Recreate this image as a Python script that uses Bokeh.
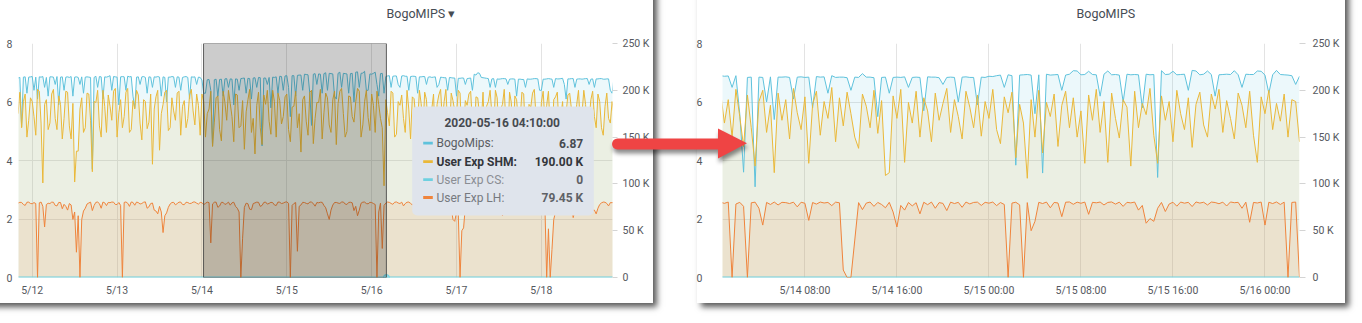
import math
import pandas as pd
from bokeh.plotting import figure
from bokeh.layouts import row, column
from bokeh.models import Range1d, LinearAxis, FixedTicker, BoxAnnotation, Label, Title, Div
from bokeh.embed import file_html
from bokeh.resources import INLINE

# ---------------- data ----------------
series_names = ["BogoMips", "User Exp SHM", "User Exp CS", "User Exp LH"]
series_colors = ["#5fc2dc", "#eab839", "#6ed0e0", "#ef843c"]

# left panel: 30-minute samples starting 2020-05-11 20:00
left_start = "2020-05-11 20:00"
left_step = "30min"
bogomips_left = [
    6.82, 6.84, 5.15, 6.85, 6.86, 6.30, 6.85, 6.86, 6.87, 6.40, 6.85, 6.10, 6.86, 6.85, 6.87, 6.50, 6.84, 6.20, 6.86, 6.86,
    6.85, 6.60, 6.87, 5.90, 6.85, 6.86, 6.40, 6.85, 6.86, 6.84, 6.87, 6.20, 6.85, 6.86, 6.84, 6.60, 6.86, 6.30, 6.85, 6.86,
    6.85, 6.84, 3.70, 6.84, 6.88, 6.50, 6.87, 6.86, 6.10, 6.86, 6.85, 6.87, 6.90, 6.40, 6.87, 6.86, 6.85, 5.90, 6.86, 6.87,
    6.86, 6.40, 6.88, 6.86, 6.87, 6.20, 5.80, 6.85, 6.86, 6.60, 6.86, 6.87, 6.84, 6.30, 6.86, 6.85, 6.50, 6.86, 6.85, 6.87,
    6.85, 6.20, 6.86, 6.84, 6.00, 6.85, 6.85, 6.87, 6.86, 6.50, 6.86, 6.85, 6.40, 6.84, 6.86, 6.87, 6.84, 6.10, 6.86, 6.85,
    6.86, 6.60, 6.85, 6.84, 6.75, 6.30, 6.30, 6.76, 6.77, 6.40, 4.50, 6.76, 6.78, 6.20, 6.77, 6.78, 6.20, 6.79, 6.80, 6.50,
    6.79, 6.78, 5.90, 6.79, 6.78, 6.40, 6.80, 6.81, 6.82, 6.30, 6.81, 6.80, 6.10, 6.82, 6.83, 6.50, 6.84, 6.83, 4.50, 6.82,
    6.82, 6.60, 6.84, 5.80, 6.85, 6.84, 6.86, 6.30, 6.88, 6.87, 6.40, 6.89, 6.90, 6.50, 5.50, 6.90, 6.90, 6.20, 6.91, 6.92,
    6.92, 6.40, 6.95, 6.94, 6.93, 6.30, 5.20, 6.95, 6.97, 6.60, 6.96, 6.95, 6.30, 6.97, 7.00, 6.40, 6.98, 6.97, 6.96, 6.20,
    6.10, 6.98, 7.02, 6.50, 6.98, 6.97, 6.96, 6.30, 6.97, 6.98, 6.00, 7.02, 7.03, 6.50, 6.98, 6.99, 7.05, 6.40, 6.40, 6.96,
    6.95, 6.98, 7.02, 6.60, 6.20, 6.97, 6.98, 6.30, 6.87, 6.89, 6.90, 6.50, 6.88, 6.89, 6.89, 6.60, 6.50, 6.89, 6.90, 6.88,
    6.88, 6.40, 6.87, 6.88, 6.88, 6.87, 6.30, 6.86, 6.86, 6.87, 6.87, 6.60, 6.85, 6.86, 6.84, 6.85, 6.86, 6.50, 6.60, 6.85,
    6.84, 6.83, 6.83, 6.40, 6.84, 6.83, 6.82, 6.82, 6.20, 6.81, 6.81, 6.82, 6.82, 6.60, 6.80, 6.81, 6.82, 6.40, 6.95, 6.92,
    7.00, 6.98, 6.84, 6.83, 6.82, 6.81, 6.80, 6.50, 6.79, 6.80, 6.50, 6.79, 6.78, 6.79, 6.80, 6.80, 6.79, 6.60, 6.78, 6.79,
    6.79, 6.78, 6.20, 6.78, 6.78, 6.77, 6.77, 6.50, 6.79, 6.78, 6.78, 6.79, 6.80, 6.80, 6.79, 6.40, 6.40, 6.78, 6.78, 6.79,
    6.80, 6.79, 6.78, 6.50, 6.80, 6.79, 6.79, 6.80, 6.81, 6.60, 6.10, 6.79, 6.79, 6.80, 6.80, 6.50, 6.78, 6.79, 6.79, 6.78,
    6.79, 6.80, 6.80, 6.60, 6.78, 6.79, 6.50, 6.79, 6.79, 6.80, 6.80, 6.78, 6.78, 6.79, 6.79, 6.40, 6.30, 6.79, 6.79, 6.78,
]
shm_left_k = [
    175, 198, 160, 188, 196, 150, 168, 192, 188, 172, 152, 201, 199, 165, 101, 185, 190, 158, 165, 196,
    201, 170, 158, 194, 185, 148, 170, 199, 198, 162, 148, 186, 102, 135, 135, 180, 192, 155, 160, 197,
    196, 168, 113, 188, 187, 200, 162, 150, 200, 183, 155, 195, 183, 168, 199, 202, 150, 176, 190, 160,
    172, 198, 202, 155, 158, 189, 180, 200, 195, 165, 147, 190, 188, 159, 166, 196, 121, 180, 193, 200,
    136, 175, 185, 198, 200, 157, 160, 192, 178, 168, 197, 199, 152, 183, 189, 160, 170, 195, 201, 178,
    163, 196, 184, 152, 196, 188, 150, 175, 180, 199, 140, 166, 192, 194, 158, 146, 199, 187, 168, 200,
    186, 172, 145, 196, 195, 160, 162, 189, 137, 177, 190, 201, 155, 170, 132, 184, 198, 160, 142, 195,
    185, 200, 167, 153, 200, 188, 150, 197, 189, 164, 172, 193, 196, 158, 145, 182, 183, 199, 160, 175,
    134, 190, 194, 167, 152, 198, 200, 143, 170, 187, 187, 201, 148, 176, 197, 192, 163, 155, 190, 199,
    142, 186, 199, 202, 175, 150, 156, 194, 193, 172, 166, 188, 202, 199, 150, 163, 188, 200, 171, 157,
    196, 184, 155, 199, 185, 170, 160, 98, 190, 176, 162, 199, 197, 150, 153, 188, 184, 195, 170, 155,
    200, 180, 148, 193, 191, 170, 165, 200, 186, 158, 198, 190, 157, 172, 180, 196, 145, 185, 195, 201,
    168, 188, 201, 162, 152, 197, 189, 178, 173, 200, 197, 150, 160, 189, 184, 196, 199, 165, 150, 193,
    192, 175, 166, 198, 140, 183, 188, 200, 175, 158, 200, 192, 156, 180, 185, 201, 162, 148, 198, 187,
    147, 194, 190, 166, 170, 198, 196, 152, 153, 185, 182, 197, 201, 172, 158, 146, 187, 199, 168, 184,
    199, 160, 145, 190, 193, 198, 160, 172, 188, 150, 176, 195, 197, 180, 150, 163, 185, 200, 164, 176,
    200, 185, 155, 168, 190, 199, 172, 160, 196, 188, 160, 152, 183, 197, 170, 165, 188, 175, 178, 170,
]
lh_left_k = [
    79.5, 80.3, 80.2, 78.0, 77.0, 80.4, 80.5, 79.1, 78.8, 80.0, 79.0, 0.0, 79.8, 80.6, 76.0, 54.0, 78.0, 79.3, 79.0, 80.5,
    80.4, 77.0, 76.5, 80.2, 80.1, 73.5, 78.2, 76.0, 72.0, 79.0, 77.5, 62.0, 70.0, 27.0, 66.0, 0.0, 62.0, 71.0, 74.0, 78.5,
    79.6, 80.5, 71.5, 77.0, 80.3, 80.6, 78.9, 74.0, 80.6, 79.8, 76.8, 80.2, 79.9, 80.6, 80.5, 78.0, 78.0, 80.1, 77.0, 0.0,
    80.2, 80.7, 79.4, 76.0, 80.7, 80.2, 77.2, 80.6, 80.0, 78.5, 79.1, 80.4, 80.8, 74.0, 75.5, 79.0, 79.6, 72.0, 71.0, 68.0,
    76.0, 70.0, 48.0, 66.0, 69.0, 75.0, 78.5, 80.1, 80.3, 77.6, 79.0, 80.5, 80.6, 78.0, 77.8, 80.4, 80.1, 79.0, 79.3, 80.6,
    80.7, 79.4, 78.4, 80.2, 80.0, 77.8, 79.2, 80.5, 80.0, 37.0, 78.6, 80.4, 80.5, 75.0, 76.4, 80.3, 80.2, 78.0, 79.0, 80.5,
    77.3, 79.8, 80.4, 76.0, 74.0, 70.0, 0.0, 42.0, 75.0, 79.4, 78.8, 73.0, 72.5, 79.0, 79.7, 80.5, 80.3, 76.0, 77.0, 80.2,
    80.6, 78.4, 79.2, 80.3, 80.0, 77.5, 76.9, 80.6, 80.4, 79.0, 79.5, 80.5, 80.8, 79.2, 0.0, 77.0, 79.0, 80.1, 28.0, 76.0,
    77.5, 80.3, 80.1, 79.2, 78.6, 80.7, 80.5, 79.0, 76.2, 80.1, 79.8, 80.4, 80.3, 77.0, 74.5, 68.0, 62.0, 72.0, 77.4, 80.1,
    80.2, 79.5, 79.1, 80.6, 80.7, 78.5, 78.0, 80.2, 80.4, 79.8, 71.5, 76.0, 66.0, 72.0, 79.3, 80.5, 80.6, 79.0, 78.7, 80.3,
    80.1, 79.0, 78.0, 0.0, 70.0, 79.5, 31.0, 77.0, 79.45, 80.6, 80.3, 79.1, 78.2, 80.4, 80.7, 79.6, 79.0, 80.5, 76.5, 79.0,
    80.4, 80.6, 79.2, 77.5, 80.0, 80.3, 78.1, 79.6, 80.5, 80.2, 72.0, 78.0, 79.4, 80.7, 80.2, 79.0, 78.8, 80.5, 80.6, 77.8,
    77.0, 80.2, 79.9, 80.6, 80.3, 75.0, 62.0, 60.0, 70.0, 68.0, 0.0, 50.0, 53.0, 76.0, 79.1, 80.6, 80.4, 79.0, 78.5, 80.1,
    80.0, 79.4, 79.3, 80.5, 80.7, 78.0, 76.8, 80.3, 80.2, 79.0, 79.0, 80.6, 80.5, 77.0, 66.0, 74.0, 78.4, 80.4, 80.1, 79.2,
    79.6, 80.5, 80.8, 78.0, 77.5, 80.3, 80.0, 79.7, 79.2, 80.6, 80.4, 78.4, 78.0, 80.2, 80.6, 79.8, 79.0, 77.0, 76.0, 0.0,
    52.0, 0.0, 30.0, 62.0, 70.0, 79.5, 80.2, 80.4, 78.3, 79.6, 80.5, 80.1, 79.0, 76.0, 64.0, 72.0, 79.8, 80.5, 80.3, 79.0,
    78.0, 80.2, 80.1, 78.6, 77.2, 72.0, 72.0, 68.0, 74.0, 78.0, 79.7, 80.6, 80.4, 79.1, 76.5, 80.0, 79.9, 80.3, 78.0, 80.0,
]
cs_left_k = [0] * len(bogomips_left)  # User Exp CS reads 0 at every sample

# right panel: 20-minute samples starting 2020-05-14 00:40
right_start = "2020-05-14 00:40"
right_step = "20min"
bogomips_right = [
    6.90, 6.88, 6.89, 6.50, 6.90, 5.60, 3.60, 6.84, 6.85, 3.10,
    6.85, 6.84, 6.00, 6.86, 5.40, 6.85, 6.85, 6.86, 6.84, 6.10,
    6.85, 6.86, 6.84, 6.85, 5.80, 6.87, 6.85, 6.86, 6.30, 6.90,
    6.84, 6.85, 6.85, 6.83, 6.40, 6.85, 6.84, 6.97, 6.85, 6.85,
    6.83, 5.50, 6.84, 6.85, 6.30, 6.84, 6.85, 6.84, 6.86, 6.50,
    6.84, 6.85, 6.84, 5.70, 6.86, 6.85, 6.85, 6.83, 6.60, 6.84,
    6.85, 6.84, 6.00, 6.85, 6.86, 6.84, 6.84, 5.90, 6.85, 6.84,
    6.88, 6.87, 6.90, 6.92, 6.50, 6.93, 6.90, 3.84, 6.92, 6.93,
    6.94, 6.92, 5.60, 6.93, 3.57, 6.95, 6.92, 6.93, 6.94, 6.40,
    6.92, 6.95, 7.07, 7.06, 6.93, 6.94, 7.05, 6.94, 6.93, 6.20,
    6.95, 7.06, 6.93, 6.94, 6.92, 6.00, 6.95, 6.93, 6.94, 6.93,
    5.80, 6.95, 6.93, 6.94, 3.42, 7.07, 6.94, 6.95, 7.05, 6.93,
    6.94, 6.95, 6.40, 7.08, 7.06, 6.93, 6.95, 7.06, 6.94, 6.20,
    6.93, 6.94, 6.95, 6.94, 7.07, 6.93, 6.50, 6.95, 6.94, 6.94,
    7.06, 7.05, 6.92, 6.30, 6.93, 7.08, 6.94, 6.93, 6.92, 6.90,
    6.60, 6.88,
]
shm_right_k = [
    198, 165, 190, 150, 201, 172, 140, 195, 160, 119,
    188, 200, 155, 184, 112, 197, 168, 190, 148, 202,
    176, 158, 193, 122, 185, 199, 152, 188, 170, 203,
    145, 192, 162, 198, 175, 150, 138, 196, 183, 160,
    200, 154, 189, 109, 112, 194, 170, 201, 123, 187,
    165, 199, 150, 192, 178, 145, 197, 168, 186, 202,
    155, 190, 172, 148, 199, 182, 160, 195, 151, 188,
    170, 201, 158, 143, 193, 176, 198, 128, 185, 165,
    106, 190, 150, 200, 133, 187, 172, 196, 140, 184,
    199, 160, 192, 150, 178, 122, 195, 168, 201, 155,
    188, 123, 197, 170, 149, 190, 182, 119, 199, 160,
    186, 174, 202, 152, 122, 194, 168, 188, 145, 200,
    175, 158, 192, 139, 185, 198, 163, 150, 196, 180,
    201, 155, 189, 170, 148, 197, 184, 160, 199, 152,
    123, 193, 175, 200, 158, 186, 167, 196, 150, 190,
    188, 145,
]
lh_right_k = [
    80.4, 79.2, 80.6, 0.0, 78.5, 80.3, 76.0, 0.0, 79.8, 80.5,
    74.0, 56.0, 80.2, 78.0, 80.6, 77.5, 80.3, 80.0, 79.0, 80.5,
    75.5, 80.4, 79.3, 61.0, 80.1, 78.4, 80.6, 79.6, 80.2, 76.8,
    80.5, 79.8, 8.0, 0.0, 0.0, 40.0, 80.0, 72.5, 79.5, 80.6,
    76.0, 80.2, 78.0, 74.5, 80.3, 70.0, 54.0, 77.0, 72.0, 80.1,
    76.5, 79.9, 68.0, 80.4, 77.8, 80.6, 74.0, 80.0, 79.2, 71.5,
    80.5, 79.0, 80.3, 75.0, 80.6, 78.6, 80.2, 80.5, 77.0, 80.3,
    79.4, 80.6, 76.8, 80.1, 78.0, 0.0, 79.5, 80.4, 77.6, 0.0,
    80.0, 50.0, 60.0, 80.3, 79.0, 80.6, 74.5, 80.2, 79.6, 65.0,
    80.4, 80.7, 78.2, 80.5, 79.3, 80.6, 67.5, 80.3, 79.8, 80.6,
    77.5, 80.2, 80.7, 78.4, 80.5, 76.0, 80.3, 79.7, 80.6, 72.0,
    77.0, 58.0, 63.0, 60.0, 74.0, 80.2, 70.5, 78.5, 80.4, 76.2,
    80.6, 79.4, 80.3, 75.8, 80.7, 79.5, 80.4, 77.5, 80.6, 80.1,
    78.8, 80.5, 76.4, 80.7, 79.9, 80.3, 74.0, 80.5, 59.0, 80.2,
    79.6, 80.6, 56.0, 80.4, 79.0, 80.7, 78.0, 80.5, 0.0, 80.2,
    80.6, 0.0,
]
cs_right_k = [0] * len(bogomips_right)  # User Exp CS reads 0 at every sample

left_y_ticks = [0, 2, 4, 6, 8]
right_y_ticks = [0, 50, 100, 150, 200, 250]
right_y_labels = ["0", "50 K", "100 K", "150 K", "200 K", "250 K"]

left_x_ticks = ["2020-05-12", "2020-05-13", "2020-05-14", "2020-05-15",
                "2020-05-16", "2020-05-17", "2020-05-18"]
left_x_labels = ["5/12", "5/13", "5/14", "5/15", "5/16", "5/17", "5/18"]
right_x_ticks = ["2020-05-14 08:00", "2020-05-14 16:00", "2020-05-15 00:00",
                 "2020-05-15 08:00", "2020-05-15 16:00", "2020-05-16 00:00"]
right_x_labels = ["5/14 08:00", "5/14 16:00", "5/15 00:00",
                  "5/15 08:00", "5/15 16:00", "5/16 00:00"]

left_range = ("2020-05-11 20:07", "2020-05-18 20:07")
right_range = ("2020-05-14 00:50", "2020-05-16 03:00")
selection = ("2020-05-14 00:27", "2020-05-16 04:10")
hover_time = "2020-05-16 04:10:00"
hover_index = 208

# ---------------- styling ----------------
FONT = "Roboto"
TICK_COLOR = "#55585e"
TITLE_COLOR = "#464c54"
GRID_COLOR = "#e3e3e3"
H = 323
LEFT_W = 676
RIGHT_W = 686


def ms(s):
    return pd.Timestamp(s).value // 10**6


def make_panel(width, b_left, b_right, xr, title, title_offset,
               left_standoff, right_standoff, right_tick_out, xticks, xlabels):
    p = figure(width=width, height=H, x_axis_type="datetime",
               x_range=Range1d(pd.Timestamp(xr[0]), pd.Timestamp(xr[1])),
               y_range=Range1d(0, 8), output_backend="svg", toolbar_location=None,
               min_border_left=b_left, min_border_right=b_right,
               min_border_top=43, min_border_bottom=46,
               outline_line_color=None, background_fill_color="white",
               border_fill_color="white")
    p.extra_y_ranges = {"right": Range1d(0, 250)}

    xt = FixedTicker(ticks=[ms(t) for t in xticks])
    yt = FixedTicker(ticks=left_y_ticks)
    xa = p.xaxis[0]
    xa.ticker = xt
    xa.major_label_overrides = {ms(t): l for t, l in zip(xticks, xlabels)}
    ya = p.yaxis[0]
    ya.ticker = yt
    for ax in (xa, ya):
        ax.axis_line_color = None
        ax.major_tick_line_color = None
        ax.minor_tick_line_color = None
        ax.major_tick_out = 0
        ax.major_tick_in = 0
        ax.major_label_text_font = FONT
        ax.major_label_text_font_size = "10.5px"
        ax.major_label_text_color = TICK_COLOR
    xa.major_label_standoff = 6
    ya.major_label_standoff = left_standoff

    ra = LinearAxis(y_range_name="right", ticker=FixedTicker(ticks=right_y_ticks),
                    major_label_overrides=dict(zip(right_y_ticks, right_y_labels)))
    ra.axis_line_color = None
    ra.minor_tick_line_color = None
    ra.major_tick_line_color = "#d4d4d4"
    ra.major_tick_out = right_tick_out
    ra.major_tick_in = 0
    ra.major_label_standoff = right_standoff
    ra.major_label_text_font = FONT
    ra.major_label_text_font_size = "10.5px"
    ra.major_label_text_color = TICK_COLOR
    p.add_layout(ra, "right")

    p.xgrid[0].ticker = xt
    p.ygrid[0].ticker = yt
    p.xgrid.grid_line_color = GRID_COLOR
    p.ygrid.grid_line_color = GRID_COLOR

    # invisible spacer between the frame and the title lifts the title up
    p.add_layout(Title(text=" ", text_font_size="10px", standoff=10), "above")
    p.title.text = title
    p.title.align = "left"
    p.title.offset = title_offset
    p.title.standoff = 0
    p.title.text_font = FONT
    p.title.text_font_size = "12.5px"
    p.title.text_font_style = "normal"
    p.title.text_color = TITLE_COLOR
    return p


def draw_series(p, t, blue, shm, cs, lh):
    c0, c1, c2, c3 = series_colors
    p.varea(x=t, y1=0, y2=blue, fill_color=c0, fill_alpha=0.12)
    p.varea(x=t, y1=0, y2=shm, fill_color=c1, fill_alpha=0.12, y_range_name="right")
    p.varea(x=t, y1=0, y2=lh, fill_color=c3, fill_alpha=0.12, y_range_name="right")
    p.line(t, blue, line_color=c0, line_width=1)
    p.line(t, shm, line_color=c1, line_width=1, y_range_name="right")
    p.line(t, cs, line_color=c2, line_width=2, y_range_name="right")
    p.line(t, lh, line_color=c3, line_width=1, y_range_name="right")


def cbox(p, l, r, t, b, color, alpha, **kw):
    p.add_layout(BoxAnnotation(left=l, right=r, top=t, bottom=b,
                               left_units="canvas", right_units="canvas",
                               top_units="canvas", bottom_units="canvas",
                               fill_color=color, fill_alpha=alpha, line_color=None, **kw))


# ---------------- left panel ----------------
t_left = pd.date_range(left_start, periods=len(bogomips_left), freq=left_step)
pl = make_panel(LEFT_W, 18, LEFT_W - 612, left_range, "BogoMIPS \u25be", 368,
                6, 5, 5, left_x_ticks, left_x_labels)
draw_series(pl, t_left, bogomips_left, shm_left_k, cs_left_k, lh_left_k)
pl.add_layout(BoxAnnotation(left=pd.Timestamp(selection[0]), right=pd.Timestamp(selection[1]),
                            fill_color="black", fill_alpha=0.2,
                            line_color="#3c3c3c", line_alpha=0.8, line_width=1))
pl.scatter([pd.Timestamp(hover_time)], [cs_left_k[hover_index]], size=6,
           fill_color="#8fdbe6", line_color=series_colors[2], y_range_name="right")

# tooltip
cbox(pl, 411.7, 593.3, 106, 215, "#dfe4ec", 1.0, border_radius=5)
tip_rows = [
    (series_names[0] + ":", f"{bogomips_left[hover_index]:.2f}", "normal", "#5a5d63", "#474a50"),
    (series_names[1] + ":", f"{shm_left_k[hover_index]:.2f} K", "bold", "#33363b", "#33363b"),
    (series_names[2] + ":", f"{cs_left_k[hover_index]}", "normal", "#8a8d93", "#5e6166"),
    (series_names[3] + ":", f"{lh_left_k[hover_index]:.2f} K", "normal", "#76797f", "#5e6166"),
]
pl.add_layout(Label(x=501.7, y=122.7, x_units="canvas", y_units="canvas",
                    text=pd.Timestamp(hover_time).strftime("%Y-%m-%d %H:%M:%S"),
                    text_font=FONT, text_font_size="12px", text_font_style="bold",
                    text_color="#464a50", text_align="center", text_baseline="middle"))
for k, (name, val, style, ncol, vcol) in enumerate(tip_rows):
    yy = [142.7, 161.2, 179.2, 197.0][k]
    cbox(pl, 422.7, 432.3, yy - 1.4, yy + 1.4, series_colors[k], 1.0)
    pl.add_layout(Label(x=436, y=yy, x_units="canvas", y_units="canvas", text=name,
                        text_font=FONT, text_font_size="12px", text_font_style=style,
                        text_color=ncol, text_align="left", text_baseline="middle"))
    pl.add_layout(Label(x=582.7, y=yy, x_units="canvas", y_units="canvas", text=val,
                        text_font=FONT, text_font_size="12px", text_font_style="bold",
                        text_color=vcol, text_align="right", text_baseline="middle"))

# ---------------- right panel ----------------
t_right = pd.date_range(right_start, periods=len(bogomips_right), freq=right_step)
pr = make_panel(RIGHT_W, 722 - LEFT_W, 1362 - 1299, right_range, "BogoMIPS", 354,
                20, 7, 6, right_x_ticks, right_x_labels)
draw_series(pr, t_right, bogomips_right, shm_right_k, cs_right_k, lh_right_k)

# ---------------- decoration overlay: card shadows and the red arrow ----------------
cx, cy, r = 617.5, 144.0, 5.5
pts = [(cx, cy - r), (718, cy - r), (718, 128.5), (747, 143.3), (718, 158.5),
       (718, cy + r), (cx, cy + r)]
for k in range(1, 8):
    a = math.pi / 2 + math.pi * k / 8
    pts.append((cx + r * math.cos(a), cy + r * math.sin(a)))
pts_str = " ".join(f"{x:.1f},{y:.1f}" for x, y in pts)
overlay = (
    '<div style="position:absolute;left:0;top:0;width:1362px;height:323px;'
    'pointer-events:none;z-index:50;overflow:visible;">'
    '<div style="position:absolute;left:-30px;top:-30px;width:683px;height:333px;'
    'box-shadow:4px 4px 6px rgba(0,0,0,0.65);"></div>'
    '<div style="position:absolute;left:697px;top:-30px;width:648px;height:333px;'
    'box-shadow:4px 4px 6px rgba(0,0,0,0.65);"></div>'
    '<svg width="1362" height="323" style="position:absolute;left:0;top:0;overflow:visible;'
    'filter:drop-shadow(1px 4px 2px rgba(0,0,0,0.45));">'
    f'<polygon points="{pts_str}" fill="#ef4444"/></svg></div>'
)
deco = Div(text=overlay, width=1362, height=0, margin=0,
           styles={"overflow": "visible", "z-index": "50", "position": "relative"})

layout = column(deco, row(pl, pr, spacing=0), spacing=0)
open("out.html", "w").write(file_html(layout, INLINE))
